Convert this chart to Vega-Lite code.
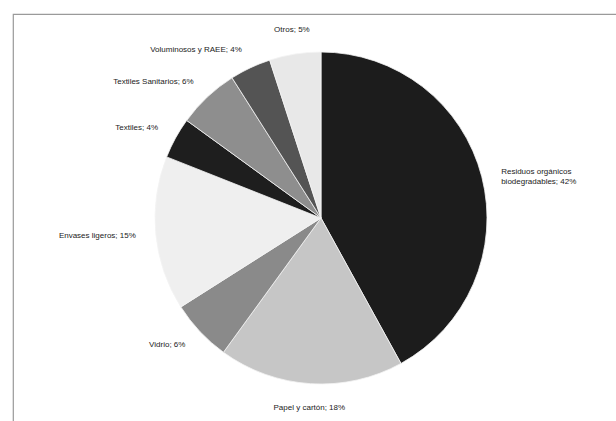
{
  "$schema": "https://vega.github.io/schema/vega-lite/v6.json",
  "width": 616,
  "height": 408,
  "autosize": "none",
  "padding": {"left": 13, "top": 14, "right": 0, "bottom": 0},
  "background": "white",
  "view": {"stroke": "#9a9a9a", "strokeWidth": 1.2, "fill": "white"},
  "data": {
    "values": [
      {"cat": "Residuos orgánicos biodegradables", "label": ["Residuos orgánicos", "biodegradables; 42%"], "pct": 42, "order": 1},
      {"cat": "Papel y cartón", "label": "Papel y cartón; 18%", "pct": 18, "order": 2},
      {"cat": "Vidrio", "label": "Vidrio; 6%", "pct": 6, "order": 3},
      {"cat": "Envases ligeros", "label": "Envases ligeros; 15%", "pct": 15, "order": 4},
      {"cat": "Textiles", "label": "Textiles; 4%", "pct": 4, "order": 5},
      {"cat": "Textiles Sanitarios", "label": "Textiles Sanitarios; 6%", "pct": 6, "order": 6},
      {"cat": "Voluminosos y RAEE", "label": "Voluminosos y RAEE; 4%", "pct": 4, "order": 7},
      {"cat": "Otros", "label": "Otros; 5%", "pct": 5, "order": 8}
    ]
  },
  "encoding": {
    "theta": {"field": "pct", "type": "quantitative", "stack": true, "scale": {"domain": [0, 100]}},
    "order": {"field": "order", "type": "quantitative"}
  },
  "layer": [
    {
      "mark": {"type": "arc", "outerRadius": 166, "stroke": "#f4f4f4", "strokeWidth": 0.8},
      "encoding": {
        "color": {
          "field": "cat",
          "type": "nominal",
          "legend": null,
          "sort": null,
          "scale": {
            "domain": ["Residuos orgánicos biodegradables", "Papel y cartón", "Vidrio", "Envases ligeros", "Textiles", "Textiles Sanitarios", "Voluminosos y RAEE", "Otros"],
            "range": ["#1c1c1c", "#c6c6c6", "#8a8a8a", "#efefef", "#1e1e1e", "#8e8e8e", "#545454", "#e8e8e8"]
          }
        }
      }
    },
    {
      "mark": {
        "type": "text",
        "radius": 186,
        "font": "Liberation Sans",
        "fontSize": 8,
        "color": "#222222",
        "align": {"expr": "sin(PI*(datum.pct_start+datum.pct_end)/100) > 0.3 ? 'left' : (sin(PI*(datum.pct_start+datum.pct_end)/100) < -0.3 ? 'right' : 'center')"},
        "baseline": {"expr": "cos(PI*(datum.pct_start+datum.pct_end)/100) > 0.95 ? 'bottom' : (cos(PI*(datum.pct_start+datum.pct_end)/100) < -0.95 ? 'top' : 'middle')"}
      },
      "encoding": {
        "text": {"field": "label"}
      }
    }
  ]
}
